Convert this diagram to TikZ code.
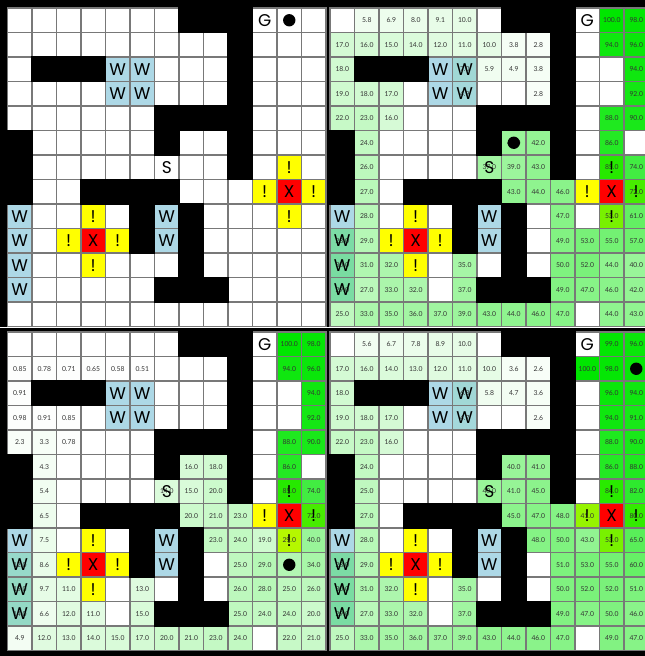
\documentclass[tikz,border=0pt]{standalone}
\usepackage{fontspec}
\setmainfont{Poppins}
\newfontfamily\numfont{Lato}
\definecolor{gcol}{RGB}{0,230,0}
\definecolor{wcol}{RGB}{173,216,230}
\definecolor{ecol}{RGB}{255,255,0}
\definecolor{xcol}{RGB}{255,0,0}
\definecolor{gridc}{RGB}{120,120,120}
\def\cellsz{24.5}
\newcommand\wallcells{0/7,0/8,0/9,1/9,2/1,2/2,2/3,2/9,3/9,4/6,4/7,4/8,4/9,5/0,5/6,5/9,6/0,6/9,7/0,7/3,7/4,7/5,7/6,8/5,8/7,9/5,9/7,10/7,11/6,11/7,11/8}
\newcommand\wcells{2/4,2/5,3/4,3/5,8/0,9/0,10/0,11/0,8/6,9/6}
\newcommand\ecells{6/11,7/10,7/12,8/11,8/3,9/2,9/4,10/3}
\newcommand\xcells{7/11,9/3}
\newcommand\valsTR{0/1/5.8,0/2/6.9,0/3/8.0,0/4/9.1,0/5/10.0,0/11/100.0,0/12/98.0,
1/0/17.0,1/1/16.0,1/2/15.0,1/3/14.0,1/4/12.0,1/5/11.0,1/6/10.0,1/7/3.8,1/8/2.8,1/11/94.0,1/12/96.0,
2/0/18.0,2/5/7.0,2/6/5.9,2/7/4.9,2/8/3.8,2/12/94.0,
3/0/19.0,3/1/18.0,3/2/17.0,3/5/4.9,3/8/2.8,3/12/92.0,
4/0/22.0,4/1/23.0,4/2/16.0,4/11/88.0,4/12/90.0,
5/1/24.0,5/7/40.0,5/8/42.0,5/11/86.0,
6/1/26.0,6/6/37.0,6/7/39.0,6/8/43.0,6/11/85.0,6/12/74.0,
7/1/27.0,7/7/43.0,7/8/44.0,7/9/46.0,7/12/72.0,
8/1/28.0,8/9/47.0,8/11/53.0,8/12/61.0,
9/0/28.0,9/1/29.0,9/9/49.0,9/10/53.0,9/11/55.0,9/12/57.0,
10/0/30.0,10/1/31.0,10/2/32.0,10/5/35.0,10/9/50.0,10/10/52.0,10/11/44.0,10/12/40.0,
11/0/29.0,11/1/27.0,11/2/33.0,11/3/32.0,11/5/37.0,11/9/49.0,11/10/47.0,11/11/46.0,11/12/42.0,
12/0/25.0,12/1/33.0,12/2/35.0,12/3/36.0,12/4/37.0,12/5/39.0,12/6/43.0,12/7/44.0,12/8/46.0,12/9/47.0,12/11/44.0,12/12/43.0}
\newcommand\valsBL{0/11/100.0,0/12/98.0,
1/0/0.85,1/1/0.78,1/2/0.71,1/3/0.65,1/4/0.58,1/5/0.51,1/11/94.0,1/12/96.0,
2/0/0.91,2/12/94.0,
3/0/0.98,3/1/0.91,3/2/0.85,3/12/92.0,
4/0/2.3,4/1/3.3,4/2/0.78,4/11/88.0,4/12/90.0,
5/1/4.3,5/7/16.0,5/8/18.0,5/11/86.0,
6/1/5.4,6/6/14.0,6/7/15.0,6/8/20.0,6/11/85.0,6/12/74.0,
7/1/6.5,7/7/20.0,7/8/21.0,7/9/23.0,7/12/72.0,
8/1/7.5,8/8/23.0,8/9/24.0,8/10/19.0,8/11/29.0,8/12/40.0,
9/0/12.0,9/1/8.6,9/9/25.0,9/10/29.0,9/12/34.0,
10/0/15.0,10/1/9.7,10/2/11.0,10/5/13.0,10/9/26.0,10/10/28.0,10/11/25.0,10/12/26.0,
11/0/14.0,11/1/6.6,11/2/12.0,11/3/11.0,11/5/15.0,11/9/25.0,11/10/24.0,11/11/24.0,11/12/20.0,
12/0/4.9,12/1/12.0,12/2/13.0,12/3/14.0,12/4/15.0,12/5/17.0,12/6/20.0,12/7/21.0,12/8/23.0,12/9/24.0,12/11/22.0,12/12/21.0}
\newcommand\valsBR{0/1/5.6,0/2/6.7,0/3/7.8,0/4/8.9,0/5/10.0,0/11/99.0,0/12/96.0,
1/0/17.0,1/1/16.0,1/2/14.0,1/3/13.0,1/4/12.0,1/5/11.0,1/6/10.0,1/7/3.6,1/8/2.6,1/10/100.0,1/11/98.0,
2/0/18.0,2/5/6.8,2/6/5.8,2/7/4.7,2/8/3.6,2/11/96.0,2/12/94.0,
3/0/19.0,3/1/18.0,3/2/17.0,3/5/4.7,3/8/2.6,3/11/94.0,3/12/91.0,
4/0/22.0,4/1/23.0,4/2/16.0,4/11/88.0,4/12/90.0,
5/1/24.0,5/7/40.0,5/8/41.0,5/11/86.0,5/12/88.0,
6/1/25.0,6/6/40.0,6/7/41.0,6/8/45.0,6/11/84.0,6/12/82.0,
7/1/27.0,7/7/45.0,7/8/47.0,7/9/48.0,7/10/41.0,7/12/80.0,
8/1/28.0,8/8/48.0,8/9/50.0,8/10/43.0,8/11/53.0,8/12/65.0,
9/0/28.0,9/1/29.0,9/9/51.0,9/10/53.0,9/11/55.0,9/12/60.0,
10/0/30.0,10/1/31.0,10/2/32.0,10/5/35.0,10/9/50.0,10/10/52.0,10/11/52.0,10/12/51.0,
11/0/29.0,11/1/27.0,11/2/33.0,11/3/32.0,11/5/37.0,11/9/49.0,11/10/47.0,11/11/50.0,11/12/46.0,
12/0/25.0,12/1/33.0,12/2/35.0,12/3/36.0,12/4/37.0,12/5/39.0,12/6/43.0,12/7/44.0,12/8/46.0,12/9/47.0,12/11/49.0,12/12/47.0}
\newcommand\panelbase[2]{%
  \fill[white] (#1,#2) rectangle ++(318.5,318.5);
  \foreach \r/\c in \wcells {\fill[wcol] ({#1+\cellsz*\c},{#2+\cellsz*\r}) rectangle ++(\cellsz,\cellsz);}
  \foreach \r/\c in \ecells {\fill[ecol] ({#1+\cellsz*\c},{#2+\cellsz*\r}) rectangle ++(\cellsz,\cellsz);}
  \foreach \r/\c in \xcells {\fill[xcol] ({#1+\cellsz*\c},{#2+\cellsz*\r}) rectangle ++(\cellsz,\cellsz);}
}
\newcommand\panelfills[3]{%
  \foreach \r/\c/\v in #3 {\pgfmathsetmacro\op{\v/100}%
    \fill[gcol, fill opacity=\op] ({#1+\cellsz*\c},{#2+\cellsz*\r}) rectangle ++(\cellsz,\cellsz);}
}
\newcommand\panelgrid[2]{%
  \foreach \i in {0,...,13} {%
    \draw[gridline] ({#1+\cellsz*\i},#2) -- ++(0,318.5);
    \draw[gridline] (#1,{#2+\cellsz*\i}) -- ++(318.5,0);}
  \foreach \r/\c in \wallcells {\fill[black] ({#1+\cellsz*\c-0.7},{#2+\cellsz*\r-0.7}) rectangle ++(25.9,25.9);}
}
\newcommand\paneltexts[4]{%
  \foreach \r/\c/\v in #4 {\node[numtxt] (#1v\r-\c) at ({#2+\cellsz*\c+12.25},{#3+\cellsz*\r+12.25}) {\v};}
}
\newcommand\panelletters[3]{%
  \foreach \r/\c in \wcells {\node[bigtxt] (#1w\r-\c) at ({#2+\cellsz*\c+12.25},{#3+\cellsz*\r+12.25}) {W};}
  \foreach \r/\c in \ecells {\node[bigtxt] (#1e\r-\c) at ({#2+\cellsz*\c+12.25},{#3+\cellsz*\r+12.25}) {!};}
  \foreach \r/\c in \xcells {\node[bigtxt] (#1x\r-\c) at ({#2+\cellsz*\c+12.25},{#3+\cellsz*\r+12.25}) {X};}
  \node[bigtxt] (#1s) at ({#2+\cellsz*6+12.25},{#3+\cellsz*6+12.25}) {S};
  \node[bigtxt] (#1g) at ({#2+\cellsz*10+12.25},{#3+12.25}) {G};
}
\newcommand\agentdot[4]{%
  \fill[black] ({#1+\cellsz*#4+12.25},{#2+\cellsz*#3+12.25}) circle[radius=6.2];
}
\begin{document}
\begin{tikzpicture}[x=1pt,y=-1pt,
  bigtxt/.style={font=\fontsize{17}{17}\selectfont, text=black, inner sep=0pt},
  numtxt/.style={font=\numfont\fontsize{6.8}{7}\selectfont, text=black!80, inner sep=0pt},
  gridline/.style={draw=gridc, line width=1.3pt, line cap=rect}]
\useasboundingbox (0,0) rectangle (645,656);
\clip (0,0) rectangle (645,656);
\fill[black] (0,0) rectangle (645,656);
\fill[white] (0,327) rectangle (645,328.3);
% top-left
\panelbase{7.5}{8}
\panelgrid{7.5}{8}
\panelletters{TL}{7.5}{8}
\agentdot{7.5}{8}{0}{11}
% top-right
\panelbase{330}{8}
\panelfills{330}{8}{\valsTR}
\panelgrid{330}{8}
\paneltexts{TR}{330}{8}{\valsTR}
\panelletters{TR}{330}{8}
\agentdot{330}{8}{5}{7}
% bottom-left
\panelbase{7.5}{332}
\panelfills{7.5}{332}{\valsBL}
\panelfills{7.5}{332}{{9/11/30.0}}
\panelgrid{7.5}{332}
\paneltexts{BL}{7.5}{332}{\valsBL}
\panelletters{BL}{7.5}{332}
\agentdot{7.5}{332}{9}{11}
% bottom-right
\panelbase{330}{332}
\panelfills{330}{332}{\valsBR}
\panelfills{330}{332}{{1/12/97.0}}
\panelgrid{330}{332}
\paneltexts{BR}{330}{332}{\valsBR}
\panelletters{BR}{330}{332}
\agentdot{330}{332}{1}{12}
\end{tikzpicture}
\end{document}
